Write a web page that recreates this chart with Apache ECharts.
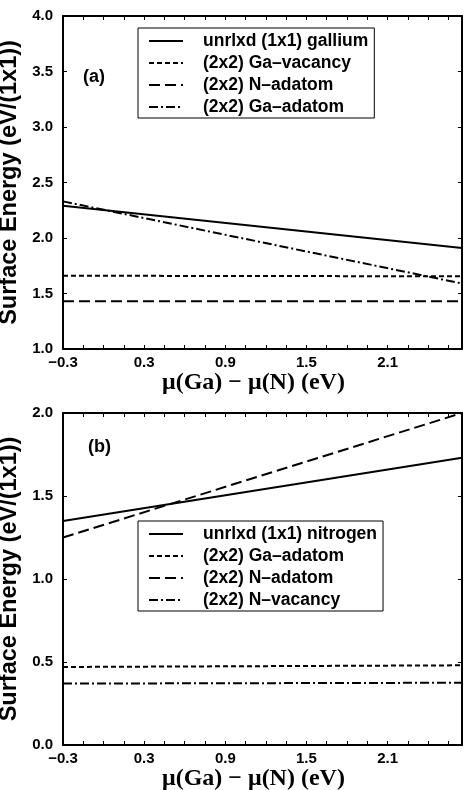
<!DOCTYPE html>
<html>
<head>
<meta charset="utf-8">
<script src="https://cdn.jsdelivr.net/npm/echarts@6/dist/echarts.min.js"></script>
<style>
html,body{margin:0;padding:0;background:#fff;}
#chart{width:468px;height:790px;}
</style>
</head>
<body>
<div id="chart"></div>
<script>
// ---- data ----
const xEnds = [-0.3, 2.65];
const xTickValues = [-0.3, 0.3, 0.9, 1.5, 2.1];
const xTickLabels = ['\u22120.3', '0.3', '0.9', '1.5', '2.1'];

// panel (a)
const namesA = ['unrlxd (1x1) gallium', '(2x2) Ga\u2013vacancy', '(2x2) N\u2013adatom', '(2x2) Ga\u2013adatom'];
const unrlxdGallium = [2.29, 1.91];
const gaVacancyA = [1.66, 1.655];
const nAdatomA = [1.43, 1.43];
const gaAdatomA = [2.33, 1.59];

// panel (b)
const namesB = ['unrlxd (1x1) nitrogen', '(2x2) Ga\u2013adatom\u200b', '(2x2) N\u2013adatom\u200b', '(2x2) N\u2013vacancy'];
const unrlxdNitrogen = [1.35, 1.73];
const gaAdatomB = [0.47, 0.48];
const nAdatomB = [1.25, 2.0];
const nVacancyB = [0.37, 0.375];

const yTitle = 'Surface Energy (eV/(1x1))';
const xTitle = '\u03bc(Ga) \u2212 \u03bc(N) (eV)';

// ---- styles ----
const SANS = 'Liberation Sans';
const SERIF = 'Liberation Serif';
const dashStyles = ['solid', [5, 3], [11, 5], [9, 3, 2, 3]];

function pts(vals) { return xEnds.map((x, i) => [x, vals[i]]); }

function xAxisPair(gi, nameGap) {
  const base = {
    type: 'value', gridIndex: gi, min: -0.3, max: 2.65, interval: 0.15,
    splitLine: {show: false},
    axisLine: {show: true, onZero: false, lineStyle: {color: '#000', width: 2}},
    axisTick: {show: true, inside: true, length: 4, lineStyle: {color: '#000', width: 1}}
  };
  return [
    Object.assign({}, base, {
      position: 'bottom',
      name: xTitle, nameLocation: 'middle', nameGap: nameGap,
      nameTextStyle: {fontFamily: SERIF, fontWeight: 'bold', fontSize: 24, color: '#000', padding: [0, 18, 0, 0]},
      axisLabel: {
        show: true, margin: 6, fontFamily: SANS, fontWeight: 'bold', fontSize: 15, color: '#000',
        showMinLabel: true, showMaxLabel: true,
        formatter: function (v) {
          for (let i = 0; i < xTickValues.length; i++) {
            if (Math.abs(v - xTickValues[i]) < 1e-6) return xTickLabels[i];
          }
          return '';
        }
      }
    }),
    Object.assign({}, base, {position: 'top', axisLabel: {show: false}})
  ];
}

function yAxisPair(gi, min, max) {
  const base = {
    type: 'value', gridIndex: gi, min: min, max: max, interval: 0.5,
    splitLine: {show: false},
    axisLine: {show: true, onZero: false, lineStyle: {color: '#000', width: 2}},
    axisTick: {show: true, inside: true, length: 4, lineStyle: {color: '#000', width: 1}}
  };
  return [
    Object.assign({}, base, {
      position: 'left',
      name: yTitle, nameLocation: 'middle', nameGap: 35,
      nameTextStyle: {fontFamily: SANS, fontWeight: 'bold', fontSize: 23.5, color: '#000'},
      axisLabel: {show: true, margin: 10, fontFamily: SANS, fontWeight: 'bold', fontSize: 15, color: '#000',
        formatter: v => v.toFixed(1)}
    }),
    Object.assign({}, base, {position: 'right', axisLabel: {show: false}})
  ];
}

function mkSeries(name, vals, styleIdx, xi, yi) {
  return {
    type: 'line', name: name, data: pts(vals), xAxisIndex: xi, yAxisIndex: yi,
    symbol: 'none', silent: true, animation: false,
    lineStyle: {color: '#000', width: 2, type: dashStyles[styleIdx]},
    itemStyle: {color: '#000'}
  };
}

function mkLegend(names, left, top) {
  return {
    data: names, orient: 'vertical', left: left, top: top,
    padding: [4, 6, 2, 10], borderColor: '#000', borderWidth: 1, backgroundColor: '#fff',
    itemWidth: 34, itemHeight: 14, itemGap: 4, selectedMode: false,
    itemStyle: {opacity: 0, borderWidth: 0},
    textStyle: {fontFamily: SANS, fontWeight: 'bold', fontSize: 17.5, color: '#000', padding: [0, 0, 0, 15]}
  };
}

const xa = xAxisPair(0, 21), xb = xAxisPair(1, 18);
const ya = yAxisPair(0, 1.0, 4.0), yb = yAxisPair(1, 0.0, 2.0);

const option = {
  animation: false,
  backgroundColor: '#fff',
  title: [
    {text: '(a)', left: 83, top: 68, textStyle: {fontFamily: SANS, fontWeight: 'bold', fontSize: 18, color: '#000'}, padding: 0},
    {text: '(b)', left: 88, top: 438, textStyle: {fontFamily: SANS, fontWeight: 'bold', fontSize: 18, color: '#000'}, padding: 0}
  ],
  grid: [
    {left: 63, right: 6, top: 16, height: 333, containLabel: false, outerBoundsMode: 'none'},
    {left: 63, right: 6, top: 413, height: 332, containLabel: false, outerBoundsMode: 'none'}
  ],
  xAxis: [xa[0], xa[1], xb[0], xb[1]],
  yAxis: [ya[0], ya[1], yb[0], yb[1]],
  legend: [mkLegend(namesA, 138, 28), mkLegend(namesB, 138, 521)],
  series: [
    mkSeries(namesA[0], unrlxdGallium, 0, 0, 0),
    mkSeries(namesA[1], gaVacancyA, 1, 0, 0),
    mkSeries(namesA[2], nAdatomA, 2, 0, 0),
    mkSeries(namesA[3], gaAdatomA, 3, 0, 0),
    mkSeries(namesB[0], unrlxdNitrogen, 0, 2, 2),
    mkSeries(namesB[1], gaAdatomB, 1, 2, 2),
    mkSeries(namesB[2], nAdatomB, 2, 2, 2),
    mkSeries(namesB[3], nVacancyB, 3, 2, 2)
  ]
};

const chart = echarts.init(document.getElementById('chart'), null, {renderer: 'canvas'});
chart.setOption(option);
</script>
</body>
</html>
